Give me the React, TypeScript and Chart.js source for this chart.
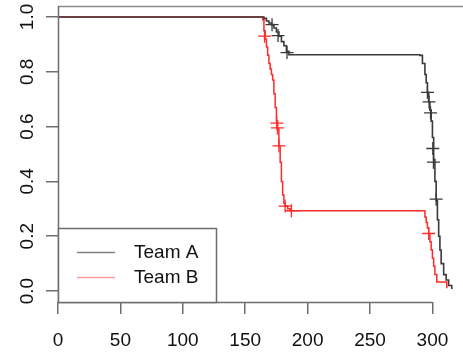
import React, { useEffect, useRef } from 'react';
import { Chart, registerables } from 'chart.js';

Chart.register(...registerables);

// Kaplan-Meier style step curves (time, survival)
const teamATimes = [0, 165, 167, 169, 171, 173, 175, 177, 179, 181, 183, 185, 290, 292, 294, 295, 296, 297, 298, 299, 300, 301, 302, 303, 304, 305, 306, 307, 309, 311, 313, 315.5];
const teamASurv = [1.0, 0.995, 0.985, 0.978, 0.972, 0.96, 0.945, 0.93, 0.91, 0.895, 0.875, 0.862, 0.86, 0.83, 0.79, 0.76, 0.725, 0.69, 0.66, 0.62, 0.56, 0.48, 0.4, 0.33, 0.26, 0.2, 0.15, 0.1, 0.06, 0.04, 0.02, 0.007];

const teamBTimes = [0, 164, 165, 166, 167, 168, 169, 170, 171, 172, 173, 174, 175, 176, 177, 178, 179, 180, 181, 182, 184, 186, 294, 295, 296, 297, 298, 299, 300, 301, 302, 303.5, 311.5];
const teamBSurv = [1.0, 0.99, 0.95, 0.92, 0.89, 0.86, 0.83, 0.81, 0.79, 0.77, 0.72, 0.67, 0.62, 0.59, 0.53, 0.47, 0.4, 0.35, 0.32, 0.31, 0.3, 0.293, 0.27, 0.25, 0.23, 0.21, 0.18, 0.15, 0.12, 0.09, 0.06, 0.033, 0.01];

// censored observations (+ marks)
const censorATimes = [171.5, 176.3, 183.5, 296, 297.3, 298.5, 300.3, 300.8, 303];
const censorASurv = [0.972, 0.932, 0.87, 0.725, 0.69, 0.65, 0.52, 0.47, 0.335];
const censorBTimes = [165.5, 175.3, 175.8, 177, 182, 187, 297];
const censorBSurv = [0.93, 0.613, 0.595, 0.53, 0.31, 0.293, 0.21];

const xTickValues = [0, 50, 100, 150, 200, 250, 300];
const yTickValues = [0, 0.2, 0.4, 0.6, 0.8, 1.0];

const seriesNames = ['Team A', 'Team B'];
const colorA = '#3a3a3a';
const colorB = '#ff2a2a';

const toPts = (xs: number[], ys: number[]) => xs.map((x, i) => ({ x, y: ys[i] }));

export default function App() {
  const ref = useRef<HTMLCanvasElement>(null);

  useEffect(() => {
    const canvas = ref.current;
    if (!canvas) return;

    const framePlugin = {
      id: 'frame',
      afterDraw(chart: any) {
        const { ctx, chartArea, scales } = chart;
        const xs = scales.x;
        ctx.save();
        ctx.strokeStyle = '#8a8a8a';
        ctx.lineWidth = 1.5;
        // top border
        ctx.beginPath();
        ctx.moveTo(chartArea.left, chartArea.top + 0.5);
        ctx.lineTo(chart.width, chartArea.top + 0.5);
        ctx.stroke();
        // left border
        ctx.strokeStyle = '#6e6e6e';
        ctx.beginPath();
        ctx.moveTo(chartArea.left + 0.5, chartArea.top);
        ctx.lineTo(chartArea.left + 0.5, chartArea.bottom);
        ctx.stroke();
        // bottom axis line from first to last tick
        ctx.beginPath();
        ctx.moveTo(xs.getPixelForValue(xTickValues[0]), chartArea.bottom + 0.5);
        ctx.lineTo(xs.getPixelForValue(xTickValues[xTickValues.length - 1]), chartArea.bottom + 0.5);
        ctx.stroke();

        // legend box
        const lx = chartArea.left;
        const ly = 228;
        const lw = 158;
        const lh = chartArea.bottom - ly;
        ctx.fillStyle = '#ffffff';
        ctx.fillRect(lx + 1, ly + 1, lw - 1, lh - 1);
        ctx.strokeStyle = '#6e6e6e';
        ctx.lineWidth = 1.5;
        ctx.strokeRect(lx + 0.5, ly + 0.5, lw, lh);
        const rows = [
          { name: seriesNames[0], color: '#808080', y: ly + 24 },
          { name: seriesNames[1], color: '#ff9a9a', y: ly + 49 },
        ];
        ctx.font = '19px "Liberation Sans", Arial, sans-serif';
        ctx.textBaseline = 'middle';
        ctx.textAlign = 'left';
        for (const r of rows) {
          ctx.strokeStyle = r.color;
          ctx.lineWidth = 1.5;
          ctx.beginPath();
          ctx.moveTo(lx + 19, r.y + 0.5);
          ctx.lineTo(lx + 57, r.y + 0.5);
          ctx.stroke();
          ctx.fillStyle = '#111111';
          ctx.fillText(r.name, lx + 76, r.y + 1);
        }
        ctx.restore();
      },
    };

    const chart = new Chart(canvas, {
      type: 'line',
      data: {
        datasets: [
          {
            label: seriesNames[0],
            data: toPts(teamATimes, teamASurv),
            borderColor: colorA,
            borderWidth: 1.6,
            stepped: true,
            pointRadius: 0,
            fill: false,
          },
          {
            label: seriesNames[1],
            data: toPts(teamBTimes, teamBSurv),
            borderColor: colorB,
            borderWidth: 1.5,
            stepped: true,
            pointRadius: 0,
            fill: false,
          },
          {
            label: 'A censored',
            data: toPts(censorATimes, censorASurv),
            showLine: false,
            pointStyle: 'cross',
            pointRadius: 6.5,
            pointBorderColor: colorA,
            pointBorderWidth: 1.3,
            borderColor: colorA,
          },
          {
            label: 'B censored',
            data: toPts(censorBTimes, censorBSurv),
            showLine: false,
            pointStyle: 'cross',
            pointRadius: 6.5,
            pointBorderColor: colorB,
            pointBorderWidth: 1.3,
            borderColor: colorB,
          },
        ],
      },
      options: {
        animation: false,
        responsive: false,
        devicePixelRatio: 1,
        layout: { autoPadding: false, padding: { top: 6, right: 0, left: 0, bottom: 0 } },
        plugins: {
          legend: { display: false },
          tooltip: { enabled: false },
        },
        scales: {
          x: {
            type: 'linear',
            min: 0,
            max: 324.5,
            afterBuildTicks: (s: any) => {
              s.ticks = xTickValues.map((v) => ({ value: v }));
            },
            afterFit: (s: any) => {
              s.height = 50;
              s.paddingLeft = 0;
              s.paddingRight = 0;
              s.paddingTop = 0;
              s.paddingBottom = 0;
            },
            border: { display: false },
            grid: {
              drawOnChartArea: false,
              drawTicks: true,
              tickLength: 12,
              color: '#6e6e6e',
              lineWidth: 1.5,
            },
            ticks: {
              autoSkip: false,
              maxRotation: 0,
              minRotation: 0,
              padding: 15,
              color: '#111111',
              font: { family: '"Liberation Sans", Arial, sans-serif', size: 19 },
              callback: (v: any) => String(v),
            },
          },
          y: {
            type: 'linear',
            min: -0.04,
            max: 1.04,
            afterBuildTicks: (s: any) => {
              s.ticks = yTickValues.map((v) => ({ value: v }));
            },
            afterFit: (s: any) => {
              s.width = 58;
              s.paddingLeft = 0;
              s.paddingRight = 0;
              s.paddingTop = 0;
              s.paddingBottom = 0;
            },
            border: { display: false },
            grid: {
              drawOnChartArea: false,
              drawTicks: true,
              tickLength: 12,
              color: '#6e6e6e',
              lineWidth: 1.5,
            },
            ticks: {
              autoSkip: false,
              minRotation: 90,
              maxRotation: 90,
              crossAlign: 'center',
              padding: 5,
              color: '#111111',
              font: { family: '"Liberation Sans", Arial, sans-serif', size: 19 },
              callback: (v: any) => Number(v).toFixed(1),
            },
          },
        },
      },
      plugins: [framePlugin],
    } as any);

    return () => chart.destroy();
  }, []);

  return (
    <div style={{ position: 'fixed', left: 0, top: 0, width: 463, height: 352, background: '#ffffff' }}>
      <canvas ref={ref} width={463} height={352} style={{ display: 'block' }} />
    </div>
  );
}
